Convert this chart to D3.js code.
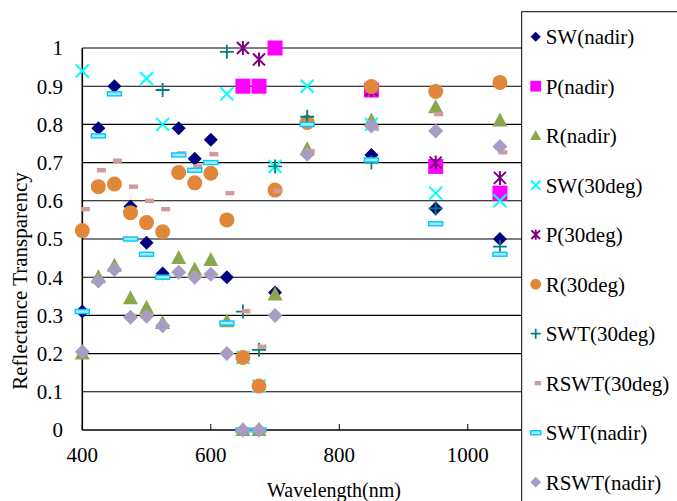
<!DOCTYPE html>
<html><head><meta charset="utf-8">
<script src="https://cdn.jsdelivr.net/npm/d3@7"></script>
<style>html,body{margin:0;padding:0;background:#fff;}svg{display:block;}</style>
</head><body>
<svg id="chart" width="677" height="501"></svg>
<script>
const wavelengths = [400,425,450,475,500,525,550,575,600,625,650,675,700,750,850,950,1050];
const swNadir   = [0.31,0.79,0.90,0.585,0.49,0.41,0.79,0.71,0.76,0.40,null,null,0.36,0.81,0.72,0.58,0.50];
const pNadir    = [null,null,null,null,null,null,null,null,null,null,0.90,0.90,1.0,null,0.89,0.69,0.62];
const rNadir    = [0.20,0.40,0.43,0.345,0.32,0.28,0.45,0.42,0.445,0.285,0,0,0.355,0.735,0.81,0.845,0.81];
const sw30      = [0.94,null,null,null,0.92,0.80,null,null,null,0.88,0.19,0.115,0.69,0.90,0.80,0.62,0.60];
const p30       = [null,null,null,null,null,null,null,null,null,null,1.0,0.97,null,null,0.89,0.70,0.66];
const r30       = [0.522,0.637,0.644,0.569,0.543,0.519,0.674,0.647,0.672,0.55,0.19,0.115,0.628,0.805,0.899,0.886,0.91];
const swt30     = [null,null,null,null,null,0.89,null,null,null,0.99,0.31,0.21,0.69,0.82,0.70,0.58,0.48];
const rswt30    = [0.578,0.68,0.705,0.637,0.60,0.578,0.724,0.69,0.722,0.62,0.311,0.218,0.626,0.73,0.79,0.827,0.727];
const swtNadir  = [0.31,0.77,0.88,0.50,0.46,0.40,0.72,0.68,0.70,0.28,0,0,null,0.80,0.707,0.54,0.46];
const rswtNadir = [0.205,0.39,0.42,0.295,0.298,0.273,0.413,0.40,0.408,0.20,0,0,0.30,0.722,0.796,0.783,0.742];

const seriesNames = ["SW(nadir)","P(nadir)","R(nadir)","SW(30deg)","P(30deg)","R(30deg)","SWT(30deg)","RSWT(30deg)","SWT(nadir)","RSWT(nadir)"];
const seriesValues = [swNadir,pNadir,rNadir,sw30,p30,r30,swt30,rswt30,swtNadir,rswtNadir];
const seriesMarkers = ["diamond","square","triangle","x","star","circle","plus","rdash","bdash","ldiamond"];
const seriesColors = ["#000080","#ff00ff","#8ca64c","#00ffff","#800080","#e0873a","#008080","#d39a9a","#00c8ff","#a99cc2"];

const xTicks = [400,600,800,1000,1200];
const yTicks = [0,0.1,0.2,0.3,0.4,0.5,0.6,0.7,0.8,0.9,1];

const svg = d3.select("#chart");
const FONT = "'Liberation Serif','Times New Roman',serif";
const x = d3.scaleLinear().domain([400,1200]).range([82.3, 596.3]);
const y = d3.scaleLinear().domain([0,1]).range([430,48]);

// gridlines
svg.append("g").selectAll("line").data(yTicks.filter(t=>t>0)).join("line")
  .attr("x1", x(400)).attr("x2", x(1200)).attr("y1", d=>y(d)).attr("y2", d=>y(d))
  .attr("stroke", "#000").attr("stroke-width", 1.1);

// axes lines
svg.append("line").attr("x1", x(400)).attr("x2", x(400)).attr("y1", y(1)).attr("y2", y(0))
  .attr("stroke","#000").attr("stroke-width",1.6);
svg.append("line").attr("x1", x(400)).attr("x2", x(1200)).attr("y1", y(0)).attr("y2", y(0))
  .attr("stroke","#000").attr("stroke-width",1.6);
svg.append("g").selectAll("line").data(xTicks).join("line")
  .attr("x1", d=>x(d)).attr("x2", d=>x(d)).attr("y1", y(0)).attr("y2", y(0)-6)
  .attr("stroke","#000").attr("stroke-width",1);

// tick labels
svg.append("g").selectAll("text").data(yTicks).join("text")
  .attr("x", 63).attr("y", d=>y(d)).attr("dy","0.35em").attr("text-anchor","end")
  .attr("font-family", FONT).attr("font-size", 21).text(d=>d3.format("~g")(d));
svg.append("g").selectAll("text").data(xTicks).join("text")
  .attr("x", d=>x(d)).attr("y", 462).attr("text-anchor","middle")
  .attr("font-family", FONT).attr("font-size", 21).text(d=>d);

// axis titles
svg.append("text").attr("x", 334).attr("y", 497).attr("text-anchor","middle")
  .attr("font-family", FONT).attr("font-size", 20).text("Wavelength(nm)");
svg.append("text").attr("transform","translate(27,281) rotate(-90)").attr("text-anchor","middle")
  .attr("font-family", FONT).attr("font-size", 21).text("Reflectance Transparency");

function drawMarker(g, type, color, s) {
  const k = s;
  switch(type) {
    case "diamond":
      g.append("path").attr("d", `M0,${-7*k}L${7*k},0L0,${7*k}L${-7*k},0Z`).attr("fill", color); break;
    case "ldiamond":
      g.append("path").attr("d", `M0,${-7.5*k}L${7.5*k},0L0,${7.5*k}L${-7.5*k},0Z`).attr("fill", color); break;
    case "square":
      g.append("rect").attr("x",-7.5*k).attr("y",-7.5*k).attr("width",15*k).attr("height",15*k).attr("fill",color); break;
    case "triangle":
      g.append("path").attr("d", `M0,${-8*k}L${7.5*k},${6*k}L${-7.5*k},${6*k}Z`).attr("fill", color); break;
    case "x":
      g.append("path").attr("d", `M${-6.5*k},${-6.5*k}L${6.5*k},${6.5*k}M${-6.5*k},${6.5*k}L${6.5*k},${-6.5*k}`)
        .attr("stroke", color).attr("stroke-width", 2).attr("fill","none"); break;
    case "star":
      g.append("path").attr("d", `M${-6*k},${-6*k}L${6*k},${6*k}M${-6*k},${6*k}L${6*k},${-6*k}M0,${-7*k}L0,${7*k}`)
        .attr("stroke", color).attr("stroke-width", 2).attr("fill","none"); break;
    case "circle":
      g.append("circle").attr("r", 7.5*k).attr("fill", color); break;
    case "plus":
      g.append("path").attr("d", `M${-7*k},0L${7*k},0M0,${-7*k}L0,${7*k}`)
        .attr("stroke", color).attr("stroke-width", 1.8).attr("fill","none"); break;
    case "rdash":
      g.append("rect").attr("x", 3*k-4.5*k).attr("y",-2.2).attr("width",9*k).attr("height",4.4).attr("fill",color); break;
    case "bdash":
      g.append("rect").attr("x",-7*k).attr("y",-2).attr("width",14*k).attr("height",4)
        .attr("fill","#9eeaff").attr("stroke",color).attr("stroke-width",1.4); break;
  }
}

// data points
seriesValues.forEach((vals, i) => {
  const pts = wavelengths.map((w, j) => ({w, v: vals[j]})).filter(d => d.v !== null);
  const g = svg.append("g");
  g.selectAll("g").data(pts).join("g")
    .attr("transform", d => `translate(${x(d.w)},${y(d.v)})`)
    .each(function(){ drawMarker(d3.select(this), seriesMarkers[i], seriesColors[i], 1); });
});

// legend
const lg = svg.append("g");
lg.append("rect").attr("x", 521.7).attr("y", 11.7).attr("width", 200).attr("height", 520)
  .attr("fill","#fff").attr("stroke","#000").attr("stroke-width",1);
seriesNames.forEach((name, i) => {
  const cy = 36.7 + i*49.5;
  const mg = lg.append("g").attr("transform", `translate(535.7,${cy})`);
  drawMarker(mg, seriesMarkers[i], seriesColors[i], 0.72);
  lg.append("text").attr("x", 545.7).attr("y", cy).attr("dy","0.35em")
    .attr("font-family", FONT).attr("font-size", 21).text(name);
});
</script>
</body></html>
